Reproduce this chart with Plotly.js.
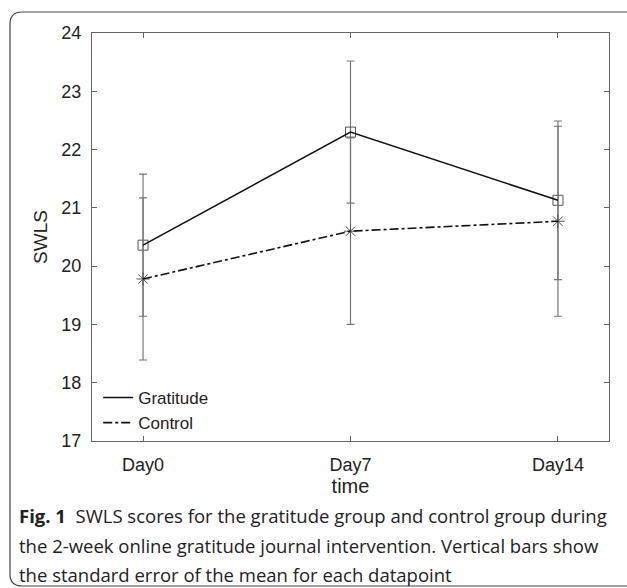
<!DOCTYPE html>
<html>
<head>
<meta charset="utf-8">
<script src="https://cdn.plot.ly/plotly-3.0.1.min.js"></script>
<style>html,body{margin:0;padding:0;background:#fff;}#chart{width:627px;height:588px;}</style>
</head>
<body>
<div id="chart"></div>
<script>
const categories = ['Day0', 'Day7', 'Day14'];
const gratitudeMean = [20.36, 22.30, 21.13];
const gratitudeSE = [1.22, 1.22, 1.36];
const controlMean = [19.78, 20.60, 20.77];
const controlSE = [1.39, 1.60, 1.63];
const yTicks = [17, 18, 19, 20, 21, 22, 23, 24];
const captionLines = [
  '<b>Fig. 1</b>  SWLS scores for the gratitude group and control group during',
  'the 2-week online gratitude journal intervention. Vertical bars show',
  'the standard error of the mean for each datapoint'
];

const xIdx = categories.map((c, i) => i);
const sans = 'Liberation Sans, Arial, sans-serif';
const axisFont = {family: sans, size: 18, color: '#222'};

const traces = [
  // markers + error bars (not in legend)
  {
    x: xIdx, y: gratitudeMean, name: 'Gratitude', type: 'scatter', mode: 'markers', showlegend: false,
    marker: {symbol: 'square-open', size: 10, color: '#555', line: {width: 1}},
    error_y: {type: 'data', array: gratitudeSE, visible: true, color: '#777', thickness: 1.2, width: 4}
  },
  {
    x: xIdx, y: controlMean, name: 'Control', type: 'scatter', mode: 'markers', showlegend: false,
    marker: {symbol: 'asterisk-open', size: 11, color: '#555', line: {width: 1, color: '#555'}},
    error_y: {type: 'data', array: controlSE, visible: true, color: '#777', thickness: 1.2, width: 4}
  },
  // lines (in legend)
  {
    x: xIdx, y: gratitudeMean, name: 'Gratitude', type: 'scatter', mode: 'lines',
    line: {color: '#111', width: 1.6, dash: 'solid'}
  },
  {
    x: xIdx, y: controlMean, name: 'Control', type: 'scatter', mode: 'lines',
    line: {color: '#111', width: 1.6, dash: 'dashdot'}
  }
];

// plot area in pixels
const L = 92, R = 609, T = 33, B = 441;
const W = 627, H = 588;
const px = v => (v - L) / (R - L);
const py = v => (B - v) / (B - T);

// rounded frame
const fx0 = px(10), fx1 = px(660), fy1 = py(12), fy0 = py(586);
const rx = 12 / (R - L), ry = 12 / (B - T);
const framePath = `M ${fx1},${fy1} L ${fx0 + rx},${fy1} Q ${fx0},${fy1} ${fx0},${fy1 - ry} L ${fx0},${fy0 + ry} Q ${fx0},${fy0} ${fx0 + rx},${fy0} L ${fx1},${fy0}`;

const captionY = [515, 545, 574];
const annotations = captionLines.map((t, i) => ({
  text: t, xref: 'paper', yref: 'paper', x: px(17), y: py(captionY[i]),
  xanchor: 'left', yanchor: 'middle', showarrow: false, align: 'left',
  font: {family: 'Open Sans, Noto Sans, sans-serif', size: 18.5, color: '#222'}
}));

const layout = {
  width: W, height: H,
  margin: {l: L, r: W - R, t: T, b: H - B, pad: 0},
  paper_bgcolor: '#fff', plot_bgcolor: '#fff',
  showlegend: true,
  legend: {x: 0.012, y: 0.0, xanchor: 'left', yanchor: 'bottom', bgcolor: 'rgba(0,0,0,0)',
           font: {family: sans, size: 17, color: '#222'},
           tracegroupgap: 0, itemwidth: 30},
  xaxis: {
    range: [-0.246, 2.246], tickvals: xIdx, ticktext: categories,
    ticks: 'inside', ticklen: 5, tickcolor: '#666', tickwidth: 1,
    showline: true, linecolor: '#666', linewidth: 1, mirror: 'ticks',
    showgrid: false, zeroline: false, tickfont: axisFont, ticklabelstandoff: 7,
    title: {text: 'time', font: {family: sans, size: 20, color: '#222'}, standoff: 2}
  },
  yaxis: {
    range: [17, 24], tickvals: yTicks, ticktext: yTicks.map(String),
    ticks: 'inside', ticklen: 5, tickcolor: '#666', tickwidth: 1,
    showline: true, linecolor: '#666', linewidth: 1, mirror: 'ticks',
    showgrid: false, zeroline: false, tickfont: axisFont, ticklabelstandoff: 6,
    title: {text: 'SWLS', font: {family: sans, size: 19, color: '#222'}, standoff: 8}
  },
  shapes: [{type: 'path', xref: 'paper', yref: 'paper', path: framePath,
            line: {color: '#444', width: 1.2}, layer: 'above'}],
  annotations: annotations
};

Plotly.newPlot('chart', traces, layout, {displayModeBar: false, staticPlot: true});
</script>
</body>
</html>
